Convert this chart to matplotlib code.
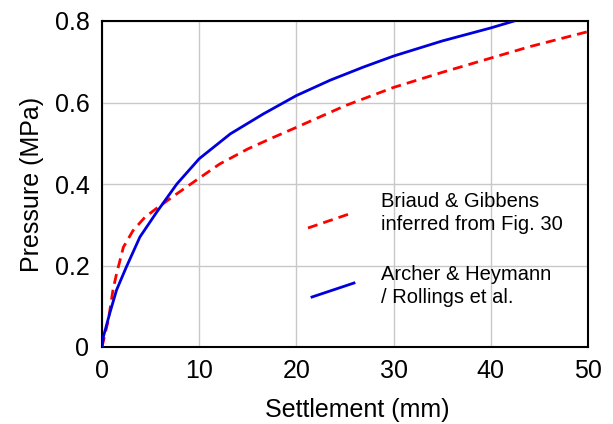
import matplotlib
matplotlib.use("Agg")
import matplotlib.pyplot as plt
from matplotlib.lines import Line2D

plt.rcParams['font.family'] = ['Liberation Sans', 'DejaVu Sans']

# Archer & Heymann / Rollings et al.
blue_x = [0, 0.14, 0.8, 1.5, 2.5, 3.9, 5.6, 7.7, 10, 13.2, 16.6, 20, 23.5, 26.9,
          30, 35, 40, 42.4]
blue_y = [0, 0.025, 0.083, 0.14, 0.196, 0.27, 0.33, 0.40, 0.462, 0.523, 0.572,
          0.617, 0.655, 0.687, 0.714, 0.751, 0.783, 0.80]

# Briaud & Gibbens inferred from Fig. 30
red_x = [0, 0.65, 1.13, 1.5, 2.2, 3.2, 4.4, 5.6, 7.7, 9.74, 12.1, 15, 17.5, 20,
         25, 30, 35, 40, 44, 50]
red_y = [0, 0.066, 0.14, 0.18, 0.245, 0.286, 0.318, 0.34, 0.376, 0.41, 0.449,
         0.486, 0.513, 0.539, 0.592, 0.637, 0.674, 0.709, 0.737, 0.774]

xticks = [0, 10, 20, 30, 40, 50]
yticks = [0, 0.2, 0.4, 0.6, 0.8]
ylabels = ['0', '0.2', '0.4', '0.6', '0.8']

fig = plt.figure(figsize=(6.13, 4.24), dpi=100)
ax = fig.add_axes([102/613, 1 - 347/424, 486/613, 326/424])

ax.plot(red_x, red_y, color='#ff0000', lw=2.0, dashes=(3.6, 2.2), zorder=3)
ax.plot(blue_x, blue_y, color='#0000dd', lw=2.0, zorder=4)

ax.set_xlim(0, 50)
ax.set_ylim(0, 0.8)
ax.set_xticks(xticks)
ax.set_yticks(yticks)
ax.set_yticklabels(ylabels)
ax.tick_params(length=0, labelsize=18, pad=9)
ax.grid(True, color='#c8c8c8', lw=1)
ax.set_axisbelow(True)
for s in ax.spines.values():
    s.set_linewidth(1.5)
    s.set_color('black')

ax.set_xlabel('Settlement (mm)', fontsize=18, labelpad=10)
ax.xaxis.set_label_coords(0.526, -0.155)
ax.set_ylabel('Pressure (MPa)', fontsize=18, labelpad=8)

# slanted key lines
fig.add_artist(Line2D([308/613, 352/613], [1 - 228/424, 1 - 213/424],
                      color='#ff0000', lw=2.0, dashes=(3.6, 2.2)))
fig.add_artist(Line2D([312/613, 354/613], [1 - 297/424, 1 - 283/424],
                      color='#0000dd', lw=2.0))
fig.text(381/613, 1 - 213/424, 'Briaud & Gibbens\ninferred from Fig. 30',
         fontsize=14.5, va='center', ha='left', linespacing=1.25)
fig.text(381/613, 1 - 286/424, 'Archer & Heymann\n/ Rollings et al.',
         fontsize=14.5, va='center', ha='left', linespacing=1.25)

fig.savefig('out.png', dpi=100)
